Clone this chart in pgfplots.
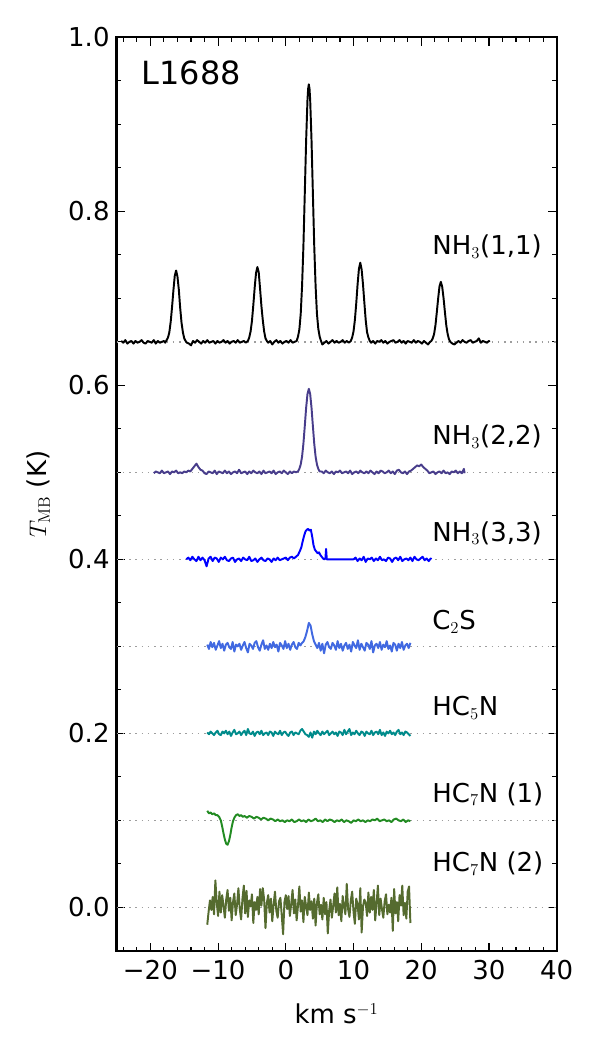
\documentclass[border=0pt]{standalone}
\usepackage[no-math]{fontspec}
\setmainfont{DejaVu Sans}
\usepackage{pgfplots}
\pgfplotsset{compat=1.18}

\definecolor{darkslateblue}{HTML}{483D8B}
\definecolor{royalblue}{HTML}{4169E1}
\definecolor{darkcyan}{HTML}{008B8B}
\definecolor{forestgreen}{HTML}{228B22}
\definecolor{darkolivegreen}{HTML}{556B2F}

\newcommand{\lblfont}{\fontsize{18.7}{22}\selectfont}

\begin{document}
\begin{tikzpicture}
\begin{axis}[
  scale only axis, width=316.9pt, height=657.7pt,
  xmin=-25, xmax=40, ymin=-0.05, ymax=1.0,
  axis line style={line width=1.6pt},
  xtick={-20,-10,0,10,20,30,40},
  xticklabels={−20,−10,0,10,20,30,40},
  minor xtick={-24,-22,...,38},
  ytick={0,0.2,0.4,0.6,0.8,1.0},
  yticklabels={0.0,0.2,0.4,0.6,0.8,1.0},
  minor ytick={-0.05,0.05,0.1,0.15,0.25,0.3,0.35,0.45,0.5,0.55,0.65,0.7,0.75,0.85,0.9,0.95},
  tick align=inside,
  major tick length=6pt, minor tick length=3pt,
  every tick/.style={black, line width=0.8pt},
  tick label style={font=\lblfont},
  xticklabel style={yshift=-3.5pt},
  yticklabel style={xshift=-1.5pt},
  xlabel={km s$^{-1}$},
  ylabel={$T_{\mathrm{MB}}$ (K)},
  label style={font=\lblfont},
  xlabel style={at={([yshift=-52.3pt]axis description cs:0.5,0)}, anchor=base},
  ylabel style={at={([xshift=-50.6pt]axis description cs:0,0.5)}, anchor=base},
  dotline/.style={black!38, line width=1pt, dash pattern=on 1.1pt off 3.4pt},
  spec/.style={line width=1.4pt, line join=round, mark=none},
]

% reference levels of the offset spectra
\addplot[dotline] coordinates {(-25,0.65) (40,0.65)};
\addplot[dotline] coordinates {(-25,0.5) (40,0.5)};
\addplot[dotline] coordinates {(-25,0.4) (40,0.4)};
\addplot[dotline] coordinates {(-25,0.3) (40,0.3)};
\addplot[dotline] coordinates {(-25,0.2) (40,0.2)};
\addplot[dotline] coordinates {(-25,0.1) (40,0.1)};
\addplot[dotline] coordinates {(-25,0.0) (40,0.0)};

% NH3(1,1)
\addplot[spec, black] coordinates {
(-24.3,0.651) (-24.0,0.649) (-23.7,0.652) (-23.4,0.648) (-23.1,0.650) (-22.8,0.651) (-22.5,0.648) (-22.2,0.651) (-21.9,0.649) (-21.6,0.650) (-21.3,0.652) (-21.0,0.649) (-20.7,0.648) (-20.4,0.651) (-20.1,0.650) (-19.8,0.649) (-19.5,0.652) (-19.2,0.648) (-18.9,0.651) (-18.6,0.649) (-18.3,0.650) (-18.0,0.651) (-17.8,0.649)
(-17.6,0.652) (-17.4,0.655) (-17.2,0.661) (-17.0,0.673) (-16.8,0.690) (-16.6,0.709) (-16.4,0.726) (-16.2,0.732) (-16.0,0.725) (-15.8,0.710) (-15.6,0.689) (-15.4,0.672) (-15.2,0.661) (-15.0,0.654) (-14.8,0.651)
(-14.6,0.649) (-14.3,0.648) (-14.0,0.646) (-13.7,0.651) (-13.4,0.649) (-13.1,0.652) (-12.8,0.650) (-12.5,0.648) (-12.2,0.651) (-11.9,0.649) (-11.6,0.652) (-11.3,0.649) (-11.0,0.650) (-10.7,0.651) (-10.4,0.648) (-10.1,0.651) (-9.8,0.649) (-9.5,0.650) (-9.2,0.652) (-8.9,0.649) (-8.6,0.651) (-8.3,0.648) (-8.0,0.650) (-7.7,0.651) (-7.4,0.649) (-7.1,0.652) (-6.8,0.649) (-6.5,0.650) (-6.2,0.651) (-5.9,0.649)
(-5.6,0.651) (-5.4,0.655) (-5.2,0.662) (-5.0,0.674) (-4.8,0.692) (-4.6,0.712) (-4.4,0.729) (-4.2,0.736) (-4.0,0.730) (-3.8,0.711) (-3.6,0.691) (-3.4,0.675) (-3.2,0.662) (-3.0,0.654) (-2.8,0.651)
(-2.6,0.649) (-2.3,0.651) (-2.0,0.647) (-1.7,0.650) (-1.4,0.652) (-1.1,0.649) (-0.8,0.651) (-0.5,0.648) (-0.2,0.650) (0.1,0.651) (0.4,0.649) (0.7,0.652) (1.0,0.649) (1.3,0.650)
(1.6,0.651) (1.8,0.656) (2.0,0.664) (2.2,0.682) (2.4,0.714) (2.6,0.760) (2.8,0.820) (3.0,0.881) (3.2,0.928) (3.3,0.941) (3.4,0.946) (3.5,0.941) (3.6,0.928) (3.8,0.881) (4.0,0.820) (4.2,0.760) (4.4,0.714) (4.6,0.682) (4.8,0.665) (5.0,0.656) (5.2,0.651)
(5.4,0.647) (5.7,0.649) (6.0,0.651) (6.3,0.648) (6.6,0.650) (6.9,0.652) (7.2,0.649) (7.5,0.651) (7.8,0.649) (8.1,0.650) (8.4,0.652) (8.7,0.649) (9.0,0.651) (9.3,0.649)
(9.6,0.651) (9.8,0.655) (10.0,0.662) (10.2,0.675) (10.4,0.694) (10.6,0.716) (10.8,0.734) (11.0,0.741) (11.2,0.733) (11.4,0.716) (11.6,0.695) (11.8,0.675) (12.0,0.661) (12.2,0.655) (12.4,0.651)
(12.6,0.649) (12.9,0.651) (13.2,0.648) (13.5,0.651) (13.8,0.650) (14.1,0.652) (14.4,0.649) (14.7,0.651) (15.0,0.648) (15.3,0.650) (15.6,0.651) (15.9,0.652) (16.2,0.649) (16.5,0.650) (16.8,0.652) (17.1,0.649) (17.4,0.651) (17.7,0.648) (18.0,0.651) (18.3,0.650) (18.6,0.649) (18.9,0.652) (19.2,0.649) (19.5,0.651) (19.8,0.650) (20.1,0.648) (20.4,0.651) (20.7,0.649) (21.0,0.647) (21.3,0.650)
(21.5,0.651) (21.7,0.654) (21.9,0.659) (22.1,0.669) (22.3,0.684) (22.5,0.700) (22.7,0.714) (22.9,0.719) (23.1,0.713) (23.3,0.700) (23.5,0.684) (23.7,0.669) (23.9,0.659) (24.1,0.653) (24.3,0.650)
(24.6,0.648) (24.9,0.647) (25.2,0.649) (25.5,0.651) (25.8,0.649) (26.1,0.652) (26.4,0.650) (26.7,0.649) (27.0,0.651) (27.3,0.652) (27.6,0.649) (27.9,0.650) (28.2,0.651) (28.5,0.654) (28.8,0.649) (29.1,0.651) (29.4,0.650) (29.7,0.649) (30.0,0.651) (30.1,0.650)
};

% NH3(2,2)
\addplot[spec, darkslateblue] coordinates {
(-19.5,0.499) (-19.2,0.501) (-18.9,0.500) (-18.6,0.499) (-18.3,0.502) (-18.0,0.499) (-17.7,0.500) (-17.4,0.501) (-17.1,0.498) (-16.8,0.501) (-16.5,0.500) (-16.2,0.502) (-15.9,0.499) (-15.6,0.500) (-15.3,0.499) (-15.0,0.501) (-14.7,0.500) (-14.4,0.502) (-14.1,0.501)
(-13.8,0.504) (-13.5,0.507) (-13.2,0.510) (-12.9,0.506) (-12.6,0.503)
(-12.3,0.502) (-12.0,0.499) (-11.7,0.498) (-11.4,0.501) (-11.1,0.500) (-10.8,0.499) (-10.5,0.502) (-10.2,0.498) (-9.9,0.501) (-9.6,0.500) (-9.3,0.499) (-9.0,0.502) (-8.7,0.499) (-8.4,0.501) (-8.1,0.498) (-7.8,0.500) (-7.5,0.501) (-7.2,0.499) (-6.9,0.503) (-6.6,0.499) (-6.3,0.500) (-6.0,0.501) (-5.7,0.498) (-5.4,0.501) (-5.1,0.499) (-4.8,0.502) (-4.5,0.500) (-4.2,0.499) (-3.9,0.501) (-3.6,0.498) (-3.3,0.502) (-3.0,0.499) (-2.7,0.500) (-2.4,0.501) (-2.1,0.499) (-1.8,0.502) (-1.5,0.498) (-1.2,0.500) (-0.9,0.501) (-0.6,0.499) (-0.3,0.502) (0.0,0.500) (0.3,0.498) (0.6,0.501) (0.9,0.499) (1.2,0.501) (1.5,0.500)
(1.8,0.501) (2.0,0.504) (2.2,0.509) (2.4,0.518) (2.6,0.533) (2.8,0.553) (3.0,0.574) (3.2,0.590) (3.4,0.596) (3.6,0.590) (3.8,0.574) (4.0,0.553) (4.2,0.533) (4.4,0.518) (4.6,0.509) (4.8,0.504) (5.0,0.501)
(5.3,0.501) (5.6,0.499) (5.9,0.502) (6.2,0.500) (6.5,0.499) (6.8,0.501) (7.1,0.498) (7.4,0.501) (7.7,0.500) (8.0,0.502) (8.3,0.499) (8.6,0.500) (8.9,0.501) (9.2,0.499) (9.5,0.502) (9.8,0.498) (10.1,0.500) (10.4,0.501) (10.7,0.499) (11.0,0.502) (11.3,0.500) (11.6,0.499) (11.9,0.501) (12.2,0.499) (12.5,0.502) (12.8,0.500) (13.1,0.498) (13.4,0.501) (13.7,0.499) (14.0,0.502) (14.3,0.501) (14.6,0.499) (14.9,0.500) (15.2,0.502) (15.5,0.499) (15.8,0.501) (16.1,0.498) (16.4,0.502) (16.7,0.503) (17.0,0.500) (17.3,0.499) (17.6,0.501) (17.9,0.498) (18.2,0.501) (18.5,0.502)
(18.8,0.504) (19.1,0.506) (19.4,0.508) (19.7,0.507) (20.0,0.509) (20.3,0.506) (20.6,0.504) (20.9,0.502)
(21.2,0.499) (21.5,0.500) (21.8,0.501) (22.1,0.498) (22.4,0.500) (22.7,0.501) (23.0,0.499) (23.3,0.502) (23.6,0.499) (23.9,0.500) (24.2,0.498) (24.5,0.501) (24.8,0.500) (25.1,0.502) (25.4,0.499) (25.7,0.501) (26.0,0.499) (26.3,0.504) (26.4,0.499)
};

% NH3(3,3)
\addplot[spec, blue] coordinates {
(-14.7,0.400) (-14.4,0.402) (-14.1,0.399) (-13.8,0.403) (-13.5,0.400) (-13.2,0.398) (-12.9,0.403) (-12.6,0.399) (-12.3,0.402) (-12.0,0.399) (-11.7,0.392) (-11.4,0.401) (-11.1,0.403) (-10.8,0.398) (-10.5,0.402) (-10.2,0.401) (-9.9,0.397) (-9.6,0.402) (-9.3,0.400) (-9.0,0.403) (-8.7,0.399) (-8.4,0.398) (-8.1,0.401) (-7.8,0.402) (-7.5,0.397) (-7.2,0.400) (-6.9,0.401) (-6.6,0.398) (-6.3,0.402) (-6.0,0.400) (-5.7,0.399) (-5.4,0.403) (-5.1,0.398) (-4.8,0.399) (-4.5,0.401) (-4.2,0.397) (-3.9,0.400) (-3.6,0.402) (-3.3,0.399) (-3.0,0.398) (-2.7,0.401) (-2.4,0.400) (-2.1,0.397) (-1.8,0.401) (-1.5,0.399) (-1.2,0.402) (-0.9,0.399) (-0.6,0.400) (-0.3,0.401) (0.0,0.402) (0.3,0.399) (0.6,0.402) (0.9,0.403) (1.2,0.401)
(1.5,0.403) (1.8,0.405) (2.1,0.410) (2.3,0.414) (2.5,0.421) (2.7,0.427) (2.9,0.432) (3.1,0.434) (3.3,0.435) (3.5,0.433) (3.7,0.434) (3.9,0.426) (4.1,0.416) (4.3,0.411) (4.5,0.409) (4.7,0.407) (4.9,0.408) (5.1,0.405) (5.3,0.403) (5.5,0.401) (5.7,0.400) (5.85,0.401) (5.95,0.412) (6.05,0.400) (10.0,0.400)
(10.3,0.402) (10.6,0.398) (10.9,0.401) (11.2,0.399) (11.5,0.403) (11.8,0.397) (12.1,0.401) (12.4,0.400) (12.7,0.402) (13.0,0.398) (13.3,0.401) (13.6,0.399) (13.9,0.403) (14.2,0.399) (14.5,0.400) (14.8,0.398) (15.1,0.402) (15.4,0.401) (15.7,0.397) (16.0,0.401) (16.3,0.402) (16.6,0.399) (16.9,0.403) (17.2,0.398) (17.5,0.400) (17.8,0.401) (18.1,0.399) (18.4,0.402) (18.7,0.398) (19.0,0.403) (19.3,0.400) (19.6,0.399) (19.9,0.401) (20.2,0.403) (20.5,0.399) (20.8,0.401) (21.1,0.398) (21.4,0.401) (21.5,0.400)
};

% C2S
\addplot[spec, royalblue] coordinates {
(-11.6,0.302) (-11.35,0.297) (-11.1,0.305) (-10.85,0.299) (-10.6,0.304) (-10.35,0.296) (-10.1,0.301) (-9.85,0.306) (-9.6,0.298) (-9.35,0.303)
(-9.1,0.295) (-8.85,0.302) (-8.6,0.304) (-8.35,0.299) (-8.1,0.297) (-7.85,0.305) (-7.6,0.294) (-7.35,0.302) (-7.1,0.300) (-6.85,0.303)
(-6.6,0.296) (-6.35,0.301) (-6.1,0.305) (-5.85,0.298) (-5.6,0.293) (-5.35,0.303) (-5.1,0.301) (-4.85,0.297) (-4.6,0.304) (-4.35,0.306)
(-4.1,0.299) (-3.85,0.295) (-3.6,0.302) (-3.35,0.307) (-3.1,0.297) (-2.85,0.301) (-2.6,0.296) (-2.35,0.303) (-2.1,0.298) (-1.85,0.305)
(-1.6,0.299) (-1.35,0.302) (-1.1,0.294) (-0.85,0.304) (-0.6,0.301) (-0.35,0.297) (-0.1,0.306) (0.15,0.298) (0.4,0.303) (0.65,0.296)
(0.9,0.302) (1.15,0.305) (1.4,0.299) (1.65,0.297) (1.9,0.304) (2.15,0.301)
(2.4,0.304) (2.65,0.306) (2.9,0.311) (3.15,0.318) (3.4,0.327) (3.65,0.324) (3.9,0.314) (4.15,0.306) (4.4,0.302)
(4.65,0.298) (4.9,0.304) (5.15,0.295) (5.4,0.303) (5.65,0.292) (5.9,0.302) (6.15,0.305) (6.4,0.299) (6.65,0.297) (6.9,0.304)
(7.15,0.301) (7.4,0.296) (7.65,0.306) (7.9,0.298) (8.15,0.303) (8.4,0.295) (8.65,0.301) (8.9,0.304) (9.15,0.297) (9.4,0.302)
(9.65,0.294) (9.9,0.305) (10.15,0.301) (10.4,0.298) (10.65,0.307) (10.9,0.296) (11.15,0.303) (11.4,0.299) (11.65,0.295) (11.9,0.304)
(12.15,0.302) (12.4,0.297) (12.65,0.306) (12.9,0.293) (13.15,0.301) (13.4,0.303) (13.65,0.298) (13.9,0.305) (14.15,0.296) (14.4,0.302)
(14.65,0.299) (14.9,0.306) (15.15,0.297) (15.4,0.301) (15.65,0.294) (15.9,0.304) (16.15,0.302) (16.4,0.295) (16.65,0.303) (16.9,0.298)
(17.15,0.305) (17.4,0.296) (17.65,0.301) (17.9,0.303) (18.15,0.298) (18.4,0.304)
};

% HC5N
\addplot[spec, darkcyan] coordinates {
(-11.6,0.201) (-11.35,0.199) (-11.1,0.202) (-10.85,0.200) (-10.6,0.198) (-10.35,0.201) (-10.1,0.203) (-9.85,0.199) (-9.6,0.198) (-9.35,0.202)
(-9.1,0.200) (-8.85,0.203) (-8.6,0.199) (-8.35,0.202) (-8.1,0.197) (-7.85,0.201) (-7.6,0.204) (-7.35,0.199) (-7.1,0.200) (-6.85,0.202)
(-6.6,0.198) (-6.35,0.201) (-6.1,0.203) (-5.85,0.198) (-5.6,0.205) (-5.35,0.200) (-5.1,0.199) (-4.85,0.202) (-4.6,0.197) (-4.35,0.201)
(-4.1,0.202) (-3.85,0.199) (-3.6,0.203) (-3.35,0.198) (-3.1,0.200) (-2.85,0.201) (-2.6,0.198) (-2.35,0.202) (-2.1,0.201) (-1.85,0.197)
(-1.6,0.202) (-1.35,0.200) (-1.1,0.199) (-0.85,0.203) (-0.6,0.198) (-0.35,0.201) (-0.1,0.202) (0.15,0.199) (0.4,0.197) (0.65,0.201)
(0.9,0.202) (1.15,0.198) (1.4,0.201) (1.65,0.200) (1.9,0.199) (2.15,0.203) (2.4,0.205) (2.65,0.202) (2.9,0.199) (3.15,0.198)
(3.4,0.196) (3.65,0.201) (3.9,0.195) (4.15,0.202) (4.4,0.199) (4.65,0.203) (4.9,0.200) (5.15,0.198) (5.4,0.202) (5.65,0.199)
(5.9,0.201) (6.15,0.203) (6.4,0.198) (6.65,0.200) (6.9,0.202) (7.15,0.199) (7.4,0.201) (7.65,0.197) (7.9,0.202) (8.15,0.201)
(8.4,0.198) (8.65,0.204) (8.9,0.199) (9.15,0.202) (9.4,0.205) (9.65,0.198) (9.9,0.201) (10.15,0.199) (10.4,0.203) (10.65,0.200)
(10.9,0.198) (11.15,0.202) (11.4,0.201) (11.65,0.197) (11.9,0.202) (12.15,0.200) (12.4,0.199) (12.65,0.203) (12.9,0.198) (13.15,0.201)
(13.4,0.202) (13.65,0.199) (13.9,0.204) (14.15,0.198) (14.4,0.201) (14.65,0.197) (14.9,0.202) (15.15,0.200) (15.4,0.203) (15.65,0.199)
(15.9,0.201) (16.15,0.198) (16.4,0.202) (16.65,0.204) (16.9,0.199) (17.15,0.201) (17.4,0.198) (17.65,0.202) (17.9,0.201) (18.15,0.199)
(18.4,0.197)
};

% HC7N (1)
\addplot[spec, forestgreen] coordinates {
(-11.6,0.111) (-11.35,0.108) (-11.1,0.109) (-10.85,0.107) (-10.6,0.108) (-10.35,0.106) (-10.1,0.106) (-9.85,0.104) (-9.6,0.100) (-9.4,0.093) (-9.2,0.085) (-9.0,0.078) (-8.8,0.073) (-8.6,0.072) (-8.4,0.076) (-8.2,0.083) (-8.0,0.092) (-7.8,0.099) (-7.6,0.103) (-7.35,0.106) (-7.1,0.107) (-6.85,0.105) (-6.6,0.106) (-6.35,0.104)
(-6.1,0.105) (-5.75,0.103) (-5.4,0.105) (-5.05,0.104) (-4.7,0.102) (-4.35,0.104) (-4.0,0.103) (-3.65,0.101) (-3.3,0.103) (-2.95,0.102) (-2.6,0.100) (-2.25,0.102) (-1.9,0.101) (-1.55,0.099) (-1.2,0.101) (-0.85,0.099) (-0.5,0.100) (-0.15,0.098) (0.2,0.100) (0.55,0.099) (0.9,0.101) (1.25,0.098) (1.6,0.099) (1.95,0.101) (2.3,0.099) (2.65,0.100) (3.0,0.098) (3.35,0.101) (3.7,0.099) (4.05,0.100) (4.4,0.102) (4.75,0.099) (5.1,0.100) (5.45,0.098) (5.8,0.101) (6.15,0.099) (6.5,0.101) (6.85,0.100) (7.2,0.098) (7.55,0.100) (7.9,0.099) (8.25,0.101) (8.6,0.098) (8.95,0.100) (9.3,0.099) (9.65,0.097) (10.0,0.100) (10.35,0.099) (10.7,0.101) (11.05,0.099) (11.4,0.100) (11.75,0.098) (12.1,0.100) (12.45,0.099) (12.8,0.101) (13.15,0.100) (13.5,0.102) (13.85,0.099) (14.2,0.100) (14.55,0.101) (14.9,0.099) (15.25,0.100) (15.6,0.098) (15.95,0.101) (16.3,0.102) (16.65,0.100) (17.0,0.099) (17.35,0.101) (17.7,0.098) (18.05,0.100) (18.4,0.099)
};

% HC7N (2)
\addplot[spec, darkolivegreen] coordinates {
(-11.6,-0.020) (-11.4,-0.005) (-11.2,0.008) (-11.0,-0.003) (-10.8,0.012) (-10.6,-0.008) (-10.4,0.031) (-10.2,0.005) (-10.0,-0.010) (-9.8,0.018)
(-9.6,-0.006) (-9.4,0.014) (-9.2,0.002) (-9.0,-0.012) (-8.8,0.009) (-8.6,0.020) (-8.4,-0.004) (-8.2,0.011) (-8.0,-0.015) (-7.8,0.006)
(-7.6,0.016) (-7.4,-0.009) (-7.2,0.003) (-7.0,0.022) (-6.8,-0.002) (-6.6,-0.014) (-6.4,0.010) (-6.2,0.025) (-6.0,-0.007) (-5.8,0.019)
(-5.6,-0.011) (-5.4,0.008) (-5.2,0.001) (-5.0,0.015) (-4.8,-0.018) (-4.6,0.006) (-4.4,-0.003) (-4.2,0.012) (-4.0,-0.008) (-3.8,0.021)
(-3.6,0.002) (-3.4,0.022) (-3.2,0.009) (-3.0,-0.024) (-2.8,0.005) (-2.6,0.014) (-2.4,-0.006) (-2.2,0.010) (-2.0,-0.016) (-1.8,0.003)
(-1.6,0.018) (-1.4,-0.004) (-1.2,-0.012) (-1.0,0.007) (-0.8,0.011) (-0.6,-0.009) (-0.4,-0.031) (-0.2,0.006) (0.0,0.014) (0.2,-0.002)
(0.4,0.013) (0.6,-0.010) (0.8,0.004) (1.0,0.020) (1.2,-0.007) (1.4,0.009) (1.6,-0.015) (1.8,0.002) (2.0,0.024) (2.2,-0.005)
(2.4,0.008) (2.6,-0.017) (2.8,0.012) (3.0,0.001) (3.2,-0.009) (3.4,0.017) (3.6,-0.003) (3.8,0.007) (4.0,-0.013) (4.2,0.010)
(4.4,-0.021) (4.6,0.005) (4.8,0.015) (5.0,-0.008) (5.2,0.003) (5.4,-0.014) (5.6,0.011) (5.8,-0.008) (6.0,0.006) (6.2,-0.030)
(6.4,-0.004) (6.6,0.009) (6.8,-0.012) (7.0,0.002) (7.2,0.016) (7.4,-0.006) (7.6,0.023) (7.8,-0.009) (8.0,0.004) (8.2,-0.016)
(8.4,0.013) (8.6,0.001) (8.8,-0.008) (9.0,0.027) (9.2,-0.002) (9.4,-0.011) (9.6,0.008) (9.8,0.018) (10.0,-0.005) (10.2,-0.019)
(10.4,0.010) (10.6,0.003) (10.8,-0.014) (11.0,0.022) (11.2,-0.029) (11.4,0.001) (11.6,0.009) (11.8,0.005) (12.0,-0.010) (12.2,0.017)
(12.4,-0.006) (12.6,0.012) (12.8,-0.003) (13.0,0.020) (13.2,-0.015) (13.4,0.004) (13.6,0.025) (13.8,-0.009) (14.0,0.010) (14.2,-0.002)
(14.4,-0.012) (14.6,0.007) (14.8,0.015) (15.0,-0.008) (15.2,0.003) (15.4,-0.006) (15.6,0.011) (15.8,-0.027) (16.0,0.021) (16.2,-0.007)
(16.4,0.006) (16.6,-0.016) (16.8,0.014) (17.0,0.002) (17.2,0.025) (17.4,-0.009) (17.6,0.005) (17.8,-0.013) (18.0,0.018) (18.2,0.024) (18.4,-0.018)
};

% line labels
\node[anchor=base west, inner sep=0pt, font=\fontsize{23}{27}\selectfont] at (axis cs:-21.3,0.946) {L1688};
\node[anchor=base west, inner sep=0pt, font=\lblfont] at (axis cs:21.6,0.750) {NH$_3$(1,1)};
\node[anchor=base west, inner sep=0pt, font=\lblfont] at (axis cs:21.6,0.532) {NH$_3$(2,2)};
\node[anchor=base west, inner sep=0pt, font=\lblfont] at (axis cs:21.6,0.421) {NH$_3$(3,3)};
\node[anchor=base west, inner sep=0pt, font=\lblfont] at (axis cs:21.6,0.319) {C$_2$S};
\node[anchor=base west, inner sep=0pt, font=\lblfont] at (axis cs:21.6,0.220) {HC$_5$N};
\node[anchor=base west, inner sep=0pt, font=\lblfont] at (axis cs:21.6,0.121) {HC$_7$N (1)};
\node[anchor=base west, inner sep=0pt, font=\lblfont] at (axis cs:21.6,0.041) {HC$_7$N (2)};
\end{axis}
% page frame around the axis and its labels
\path (current axis.south west) ++(-83.9pt,-71.4pt) rectangle ++(432pt,756pt);
\end{tikzpicture}
\end{document}
